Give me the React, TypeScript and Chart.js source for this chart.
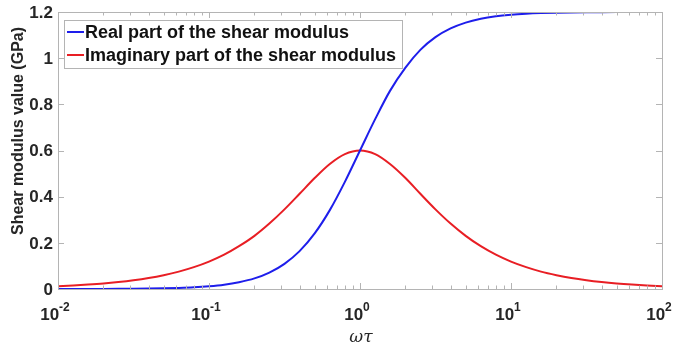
import { useEffect, useRef } from "react";
import { Chart, registerables } from "chart.js";
Chart.register(...registerables);

const omegaTau = [0.01, 0.0126, 0.0158, 0.02, 0.0251, 0.0316, 0.0398, 0.0501, 0.0631, 0.0794, 0.1, 0.126, 0.158, 0.2, 0.251, 0.316, 0.398, 0.501, 0.631, 0.794, 1, 1.26, 1.58, 2, 2.51, 3.16, 3.98, 5.01, 6.31, 7.94, 10, 12.6, 15.8, 20, 25.1, 31.6, 39.8, 50.1, 63.1, 79.4, 100];
const realPart = [0.0001, 0.0002, 0.0003, 0.0005, 0.0008, 0.0012, 0.0019, 0.003, 0.0048, 0.0075, 0.0119, 0.0187, 0.0294, 0.0459, 0.0712, 0.1091, 0.1642, 0.2409, 0.3417, 0.4642, 0.6, 0.7358, 0.8583, 0.9591, 1.0358, 1.0909, 1.1288, 1.1541, 1.1706, 1.1813, 1.1881, 1.1925, 1.1952, 1.197, 1.1981, 1.1988, 1.1992, 1.1995, 1.1997, 1.1998, 1.1999];
const imagPart = [0.012, 0.0151, 0.019, 0.0239, 0.0301, 0.0379, 0.0477, 0.06, 0.0754, 0.0947, 0.1188, 0.1487, 0.1855, 0.2303, 0.2835, 0.345, 0.4124, 0.4807, 0.5416, 0.5844, 0.6, 0.5844, 0.5416, 0.4807, 0.4124, 0.345, 0.2835, 0.2303, 0.1855, 0.1487, 0.1188, 0.0947, 0.0754, 0.06, 0.0477, 0.0379, 0.0301, 0.0239, 0.019, 0.0151, 0.012];
const yTicks = [0, 0.2, 0.4, 0.6, 0.8, 1, 1.2];
const yTickLabels = ["0", "0.2", "0.4", "0.6", "0.8", "1", "1.2"];
const xTicks = [0.01, 0.1, 1, 10, 100];
const xTickExponents = ["-2", "-1", "0", "1", "2"];
const minorMultipliers = [2, 3, 4, 5, 6, 7, 8, 9];
const seriesNames = ["Real part of the shear modulus", "Imaginary part of the shear modulus"];
const seriesColors = ["rgb(30,30,235)", "rgb(232,30,36)"];
const yTitle = "Shear modulus value (GPa)";
const xTitle = "ωτ";

const AXIS = "#b4b4b4";
const FONT = '"Liberation Sans", Arial, sans-serif';

const decorPlugin = {
  id: "decor",
  afterDraw(chart: any) {
    const ctx = chart.ctx as CanvasRenderingContext2D;
    const { left, right, top, bottom } = chart.chartArea;
    const xs = chart.scales.x;
    const ys = chart.scales.y;
    ctx.save();
    // box
    ctx.strokeStyle = AXIS;
    ctx.lineWidth = 1;
    ctx.strokeRect(Math.round(left) + 0.5, Math.round(top) + 0.5, Math.round(right - left), Math.round(bottom - top));
    // ticks
    ctx.beginPath();
    for (let d = 0; d < xTicks.length; d++) {
      const px = Math.round(xs.getPixelForValue(xTicks[d])) + 0.5;
      ctx.moveTo(px, bottom); ctx.lineTo(px, bottom - 6);
      ctx.moveTo(px, top); ctx.lineTo(px, top + 6);
      if (d < xTicks.length - 1) {
        for (const m of minorMultipliers) {
          const mx = Math.round(xs.getPixelForValue(xTicks[d] * m)) + 0.5;
          ctx.moveTo(mx, bottom); ctx.lineTo(mx, bottom - 3.5);
          ctx.moveTo(mx, top); ctx.lineTo(mx, top + 3.5);
        }
      }
    }
    for (const t of yTicks) {
      const py = Math.round(ys.getPixelForValue(t)) + 0.5;
      ctx.moveTo(left, py); ctx.lineTo(left + 6, py);
      ctx.moveTo(right, py); ctx.lineTo(right - 6, py);
    }
    ctx.stroke();

    // y tick labels
    ctx.fillStyle = "#262626";
    ctx.font = `bold 17px ${FONT}`;
    ctx.textAlign = "right";
    ctx.textBaseline = "middle";
    yTicks.forEach((t, i) => {
      ctx.fillText(yTickLabels[i], left - 5, ys.getPixelForValue(t) + 1);
    });

    // x tick labels with superscripts
    ctx.textBaseline = "alphabetic";
    ctx.textAlign = "left";
    xTicks.forEach((t, i) => {
      const px = xs.getPixelForValue(t);
      ctx.font = `bold 17px ${FONT}`;
      const wb = ctx.measureText("10").width;
      ctx.font = `bold 12px ${FONT}`;
      const we = ctx.measureText(xTickExponents[i]).width;
      const x0 = px - (wb + we) / 2 - 3;
      ctx.font = `bold 17px ${FONT}`;
      ctx.fillText("10", x0, bottom + 31);
      ctx.font = `bold 12px ${FONT}`;
      ctx.fillText(xTickExponents[i], x0 + wb, bottom + 22);
    });

    // x title
    ctx.font = `italic 17px "DejaVu Serif", serif`;
    ctx.textAlign = "center";
    ctx.fillText(xTitle, (left + right) / 2 + 1, 342);

    // y title
    ctx.save();
    ctx.translate(19, 131);
    ctx.rotate(-Math.PI / 2);
    ctx.font = `bold 16px ${FONT}`;
    ctx.textAlign = "center";
    ctx.textBaseline = "middle";
    ctx.fillText(yTitle, 0, 0);
    ctx.restore();

    // legend
    const lx = 64, ly = 20, lw = 338, lh = 48;
    ctx.fillStyle = "#ffffff";
    ctx.fillRect(lx, ly, lw, lh);
    ctx.strokeStyle = AXIS;
    ctx.lineWidth = 1;
    ctx.strokeRect(lx + 0.5, ly + 0.5, lw, lh);
    seriesNames.forEach((name, i) => {
      const cy = ly + 12 + i * 23;
      ctx.strokeStyle = seriesColors[i];
      ctx.lineWidth = 2;
      ctx.beginPath();
      ctx.moveTo(lx + 3, cy); ctx.lineTo(lx + 20, cy);
      ctx.stroke();
      ctx.fillStyle = "#111";
      ctx.font = `bold 18px ${FONT}`;
      ctx.textAlign = "left";
      ctx.textBaseline = "middle";
      ctx.fillText(name, lx + 21, cy + 1);
    });
    ctx.restore();
  },
};

export default function App() {
  const ref = useRef<HTMLCanvasElement>(null);
  useEffect(() => {
    document.body.style.margin = "0";
    const chart = new Chart(ref.current!, {
      type: "line",
      data: {
        datasets: [
          {
            label: seriesNames[0],
            data: omegaTau.map((x, i) => ({ x, y: realPart[i] })),
            borderColor: seriesColors[0],
            borderWidth: 2,
            pointRadius: 0,
            cubicInterpolationMode: "monotone",
            fill: false,
          },
          {
            label: seriesNames[1],
            data: omegaTau.map((x, i) => ({ x, y: imagPart[i] })),
            borderColor: seriesColors[1],
            borderWidth: 2,
            pointRadius: 0,
            cubicInterpolationMode: "monotone",
            fill: false,
          },
        ],
      },
      options: {
        responsive: false,
        animation: false,
        layout: { padding: { left: 58, right: 14, top: 12, bottom: 58 } },
        plugins: { legend: { display: false }, tooltip: { enabled: false } },
        scales: {
          x: { type: "logarithmic", min: 0.01, max: 100, display: false },
          y: { type: "linear", min: 0, max: 1.2, display: false },
        },
      },
      plugins: [decorPlugin],
    });
    return () => chart.destroy();
  }, []);
  return (
    <div style={{ width: 676, height: 347, background: "#fff" }}>
      <canvas ref={ref} width={676} height={347} />
    </div>
  );
}
